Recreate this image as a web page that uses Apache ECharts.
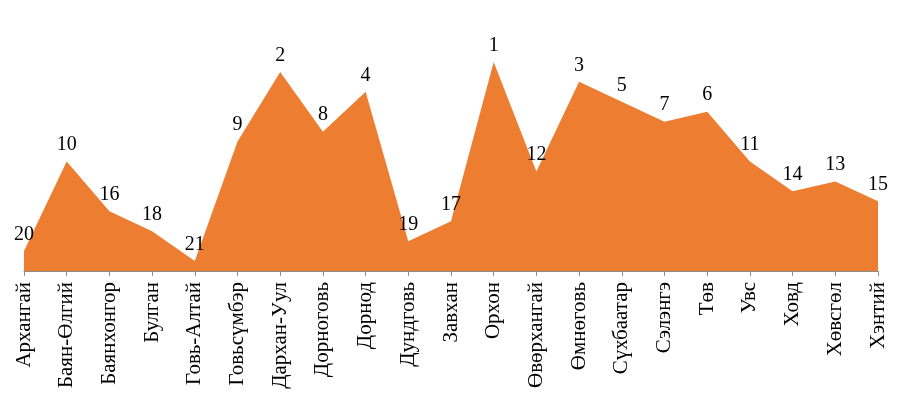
<!DOCTYPE html>
<html>
<head>
<meta charset="utf-8">
<script src="https://cdn.jsdelivr.net/npm/echarts@6/dist/echarts.min.js"></script>
<style>html,body{margin:0;padding:0;background:#fff}#c{width:901px;height:396px}</style>
</head>
<body>
<div id="c"></div>
<script>
const categories = ["Архангай","Баян-Өлгий","Баянхонгор","Булган","Говь-Алтай","Говьсүмбэр","Дархан-Уул","Дорноговь","Дорнод","Дундговь","Завхан","Орхон","Өвөрхангай","Өмнөговь","Сүхбаатар","Сэлэнгэ","Төв","Увс","Ховд","Хөвсгөл","Хэнтий"];
const values = [2,11,6,4,1,13,20,14,18,3,5,21,10,19,17,15,16,11,8,9,7];
const ranks = [20,10,16,18,21,9,2,8,4,19,17,1,12,3,5,7,6,11,14,13,15];

const chart = echarts.init(document.getElementById('c'), null, {renderer:'canvas'});
chart.setOption({
  animation: false,
  grid: {left: 24, right: 23, top: 52, bottom: 125, containLabel: false},
  xAxis: {
    type: 'category',
    data: categories,
    boundaryGap: false,
    axisLine: {show: true, lineStyle: {color: '#8c8c8c', width: 1}},
    axisTick: {show: true, length: 5, lineStyle: {color: '#8c8c8c'}},
    axisLabel: {rotate: 90, interval: 0, margin: 11, fontSize: 21, color: '#000', fontFamily: 'Liberation Serif'}
  },
  yAxis: {
    type: 'value', min: 0, max: 22,
    show: false, splitLine: {show: false}
  },
  series: [{
    type: 'line',
    data: values,
    symbol: 'circle',
    symbolSize: 1,
    showSymbol: true,
    showAllSymbol: true,
    itemStyle: {color: 'rgba(0,0,0,0)', borderWidth: 0},
    lineStyle: {width: 0, color: '#ED7D31'},
    areaStyle: {color: '#ED7D31', opacity: 1},
    label: {
      show: true, position: 'top', distance: 6,
      fontSize: 20, color: '#000', fontFamily: 'Liberation Serif',
      formatter: p => String(ranks[p.dataIndex])
    }
  }]
});
</script>
</body>
</html>
